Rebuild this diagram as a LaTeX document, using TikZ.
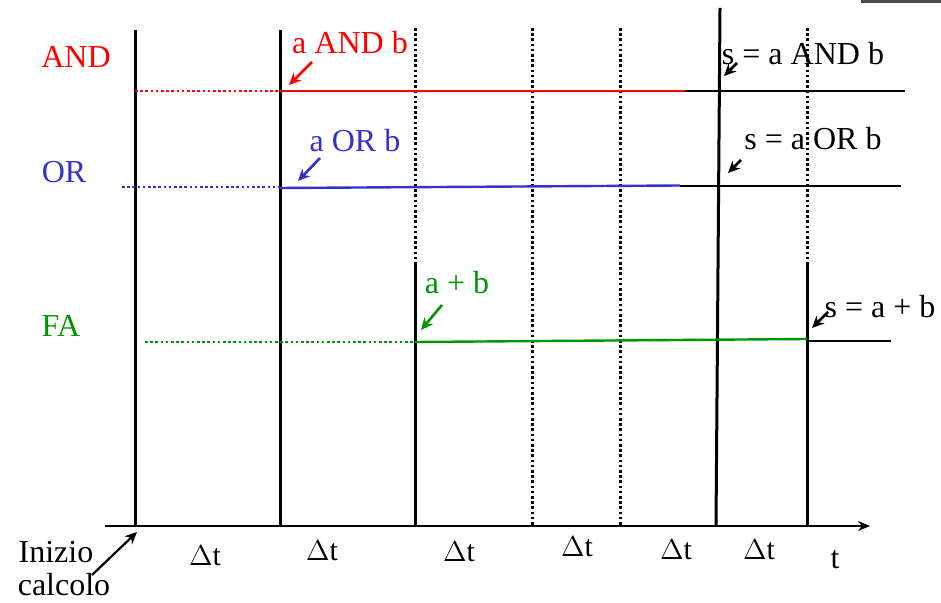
\documentclass[tikz,border=0pt]{standalone}
\usepackage{fontspec}
\setmainfont{Liberation Serif}
\usetikzlibrary{arrows.meta}
\definecolor{andred}{RGB}{255,0,0}
\definecolor{orblue}{RGB}{51,51,204}
\definecolor{fagreen}{RGB}{0,150,0}
\begin{document}
\begin{tikzpicture}[x=0.5pt,y=-0.5pt,
  solidln/.style={line width=1.5pt},
  dotln/.style={line width=1.5pt, dash pattern=on 1.3pt off 1.3pt},
  cdot/.style={line width=1.3pt, dash pattern=on 1.3pt off 1.3pt},
  cline/.style={line width=1.2pt},
  lbl/.style={font=\fontsize{16}{18}\selectfont, inner sep=0pt},
  dlbl/.style={font=\fontsize{15}{17}\selectfont, inner sep=0pt},
  arr/.style={-{Stealth[length=6pt,width=5.5pt]}, line width=1.3pt}]
\useasboundingbox (0,0) rectangle (941,603);
% gray bar at top right
\fill[gray!60!black] (861,0) rectangle (941,3.5);

% time axis
\coordinate (ax0) at (105,526);
\coordinate (ax1) at (870,526);
\draw[line width=1.3pt,-{Stealth[length=6pt,width=5pt]}] (ax0) -- (ax1);

% vertical lines
\draw[solidln] (135,30) -- (135,526);
\draw[solidln] (280,30) -- (280,526);
\draw[dotln] (415,28) -- (415,262);
\draw[solidln] (415,262) -- (415,526);
\draw[dotln] (532,28) -- (532,526);
\draw[dotln] (620,28) -- (620,526);
\draw[solidln] (720,8) -- (716,526);
\draw[dotln] (807,28) -- (807,265);
\draw[solidln] (807,265) -- (807,526);

% AND line
\draw[cdot, andred] (135,91) -- (280,91);
\draw[cline, andred] (280,91) -- (685,91);
\draw[solidln, line width=1.4pt] (685,91) -- (905,91);
% OR line
\draw[cdot, orblue] (122,187) -- (280,187);
\draw[cline, orblue] (280,188) -- (680,185.5);
\draw[solidln, line width=1.4pt] (680,186) -- (901,186);
% FA line
\draw[cdot, fagreen] (145,342) -- (415,342);
\draw[cline, fagreen] (415,342) -- (807,339);
\draw[solidln, line width=1.4pt] (807,341) -- (891,341);

% row labels
\node[lbl, text=andred] (andl) at (76,57) {AND};
\node[lbl, text=orblue] (orl) at (64,172) {OR};
\node[lbl, text=fagreen] (fal) at (61,326) {FA};

% signal labels with arrows
\node[lbl, text=andred] (andsig) at (350,43) {a AND b};
\coordinate (andsigA) at (312,62);
\coordinate (andsigB) at (289,85);
\draw[arr, andred] (andsigA) -- (andsigB);

\node[lbl, text=orblue] (orsig) at (355,141) {a OR b};
\coordinate (orsigA) at (320,158);
\coordinate (orsigB) at (298,181);
\draw[arr, orblue] (orsigA) -- (orsigB);

\node[lbl, text=fagreen] (fasig) at (457,283) {a + b};
\coordinate (fasigA) at (442,305);
\coordinate (fasigB) at (421,330);
\draw[arr, fagreen] (fasigA) -- (fasigB);

\node[lbl] (sand) at (803,54) {s = a AND b};
\coordinate (sandA) at (737,63);
\coordinate (sandB) at (724,76);
\draw[arr] (sandA) -- (sandB);

\node[lbl] (sor) at (813,139) {s = a OR b};
\coordinate (sorA) at (741,160);
\coordinate (sorB) at (728,173);
\draw[arr] (sorA) -- (sorB);

\node[lbl] (sfa) at (880,307) {s = a + b};
\coordinate (sfaA) at (828,312);
\coordinate (sfaB) at (812,328);
\draw[arr] (sfaA) -- (sfaB);

% bottom labels
\node[lbl] (inizio) at (56,552) {Inizio};
\node[lbl] (calcolo) at (64,585) {calcolo};
\coordinate (icA) at (92,575);
\coordinate (icB) at (137,532);
\draw[arr, line width=1.1pt] (icA) -- (icB);

\node[dlbl] (dt1) at (205,556) {$\Delta$t};
\node[dlbl] (dt2) at (322,551) {$\Delta$t};
\node[dlbl] (dt3) at (459,552) {$\Delta$t};
\node[dlbl] (dt4) at (577,547) {$\Delta$t};
\node[dlbl] (dt5) at (676,550) {$\Delta$t};
\node[dlbl] (dt6) at (759,550) {$\Delta$t};
\node[lbl] (tl) at (835,560) {t};
\end{tikzpicture}
\end{document}
